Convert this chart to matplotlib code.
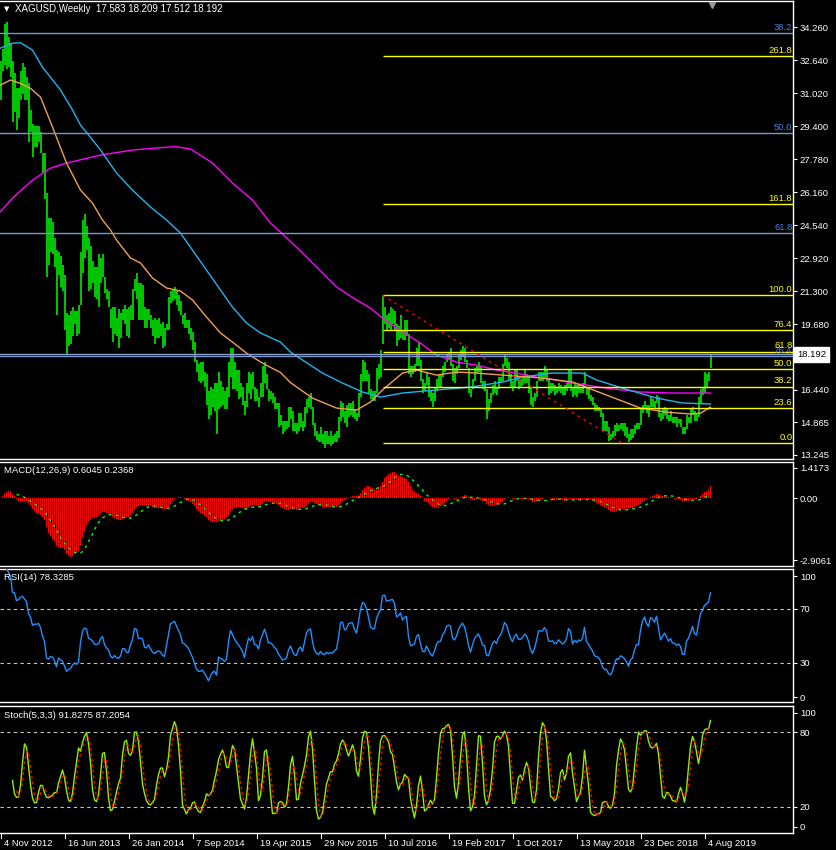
import matplotlib
matplotlib.use("Agg")
import matplotlib.pyplot as plt
import matplotlib.transforms as mtransforms
from matplotlib.lines import Line2D
import numpy as np
import pandas as pd

plt.rcParams["font.family"] = ["Liberation Sans", "DejaVu Sans"]

# weekly XAGUSD bars, first week 4 Nov 2012
START_DATE = "2012-11-04"
highs = [
    32.6, 33.2, 34.4, 34.5, 33.8, 33.5, 32.6, 32.0, 31.3, 31.3,
    32.1, 32.5, 32.3, 31.8, 31.5, 30.2, 29.5, 29.4, 29.4, 29.4,
    29.1, 28.1, 28.1, 26.1, 24.9, 24.9, 24.7, 23.9, 23.3, 23.2,
    23.0, 22.6, 22.1, 20.2, 20.1, 20.3, 20.5, 20.3, 20.3, 20.6,
    23.2, 24.8, 25.1, 24.5, 23.9, 23.5, 22.8, 22.5, 22.5, 23.1,
    22.9, 23.1, 22.0, 21.4, 21.3, 20.4, 20.5, 20.5, 20.0, 20.4,
    20.2, 20.4, 20.6, 20.4, 20.5, 20.6, 21.4, 21.9, 22.2, 21.7,
    21.7, 21.6, 20.5, 20.4, 20.4, 20.1, 19.9, 20.0, 19.9, 20.0,
    19.7, 19.8, 19.5, 19.7, 21.0, 21.3, 21.4, 21.5, 21.3, 21.1,
    20.8, 20.1, 20.2, 19.9, 19.9, 19.5, 19.3, 18.8, 17.9, 17.7,
    17.8, 17.8, 17.3, 17.2, 16.4, 16.6, 16.5, 16.8, 16.8, 17.3,
    16.9, 16.6, 16.4, 16.6, 17.8, 18.5, 18.5, 17.8, 17.4, 17.4,
    16.8, 16.6, 15.9, 16.8, 17.3, 17.2, 17.3, 16.6, 16.5, 16.1,
    16.8, 17.6, 17.8, 17.2, 16.5, 16.4, 16.3, 16.1, 15.8, 15.8,
    15.2, 14.9, 14.9, 14.9, 15.6, 15.6, 15.4, 14.8, 14.8, 15.3,
    15.3, 14.9, 15.6, 16.0, 16.1, 16.3, 15.6, 14.8, 14.4, 14.3,
    14.6, 14.3, 14.4, 14.4, 14.2, 14.4, 14.2, 14.3, 14.4, 15.1,
    15.9, 15.8, 15.4, 15.7, 15.8, 15.8, 15.9, 15.5, 15.3, 16.3,
    17.2, 17.9, 17.8, 17.4, 17.2, 16.5, 16.4, 16.4, 17.5, 17.7,
    18.4, 21.1, 20.5, 20.1, 20.2, 20.5, 20.4, 20.3, 19.7, 19.6,
    20.1, 19.4, 19.9, 19.9, 19.2, 17.6, 17.6, 17.7, 18.5, 18.8,
    17.9, 17.0, 16.8, 17.3, 17.1, 16.4, 16.3, 16.6, 17.0, 17.2,
    17.2, 17.6, 17.8, 18.2, 18.3, 18.5, 17.7, 17.5, 17.6, 18.2,
    18.4, 18.6, 18.5, 17.9, 17.5, 16.5, 17.0, 17.5, 17.6, 17.8,
    17.6, 16.9, 16.9, 16.5, 16.0, 16.3, 16.7, 16.9, 16.6, 17.1,
    17.1, 17.7, 18.2, 18.0, 17.8, 17.2, 16.9, 17.4, 17.4, 17.1,
    17.0, 17.1, 17.4, 17.2, 17.1, 16.6, 16.1, 16.3, 16.9, 17.3,
    17.3, 17.3, 17.6, 17.4, 17.0, 16.8, 16.8, 16.7, 16.6, 16.8,
    16.7, 16.6, 16.7, 16.8, 17.4, 17.4, 16.6, 16.8, 16.7, 16.7,
    16.6, 16.8, 17.3, 16.6, 16.5, 16.2, 16.1, 15.8, 15.7, 15.6,
    15.5, 15.3, 14.9, 14.9, 14.6, 14.3, 14.4, 14.7, 14.8, 14.7,
    14.8, 14.8, 14.8, 14.6, 14.3, 14.5, 14.5, 14.7, 14.8, 14.8,
    15.5, 15.7, 15.9, 15.7, 15.7, 16.1, 16.0, 15.9, 16.2, 16.1,
    15.3, 15.5, 15.6, 15.5, 15.2, 15.4, 15.1, 15.1, 15.1, 15.0,
    15.0, 14.6, 14.6, 15.2, 15.1, 15.5, 15.6, 15.4, 15.3, 16.1,
    16.5, 16.6, 17.3, 17.2, 17.3, 18.209,
]
lows = [
    30.7, 32.1, 32.4, 32.2, 32.3, 31.8, 29.6, 30.1, 29.2, 29.8,
    30.7, 31.0, 30.7, 30.7, 28.6, 29.1, 27.9, 28.4, 28.4, 28.6,
    28.1, 27.1, 25.8, 22.0, 22.6, 23.2, 23.1, 22.5, 20.1, 22.1,
    21.5, 21.3, 19.4, 18.2, 18.6, 18.7, 19.1, 19.7, 19.1, 19.2,
    20.6, 22.2, 22.9, 23.3, 21.3, 21.4, 21.7, 21.0, 20.9, 20.5,
    21.7, 22.0, 21.2, 20.9, 20.5, 19.5, 18.8, 19.2, 19.1, 18.5,
    19.0, 19.9, 19.7, 19.1, 19.0, 19.9, 19.9, 21.3, 20.9, 19.9,
    19.9, 19.9, 19.5, 19.5, 19.9, 19.5, 19.1, 18.7, 19.0, 19.0,
    19.1, 18.5, 18.6, 19.4, 19.4, 20.7, 20.8, 20.9, 20.6, 20.3,
    20.1, 19.7, 19.5, 19.5, 19.2, 18.9, 18.4, 17.8, 17.3, 16.9,
    16.8, 16.9, 16.6, 15.7, 15.0, 15.2, 15.6, 15.4, 14.3, 15.5,
    15.6, 15.7, 15.5, 15.5, 16.1, 17.1, 16.5, 16.5, 16.4, 16.0,
    16.1, 15.7, 15.2, 15.6, 16.3, 16.0, 16.5, 15.9, 15.9, 15.6,
    16.1, 16.1, 16.8, 16.5, 15.9, 16.0, 15.8, 15.5, 15.5, 14.6,
    14.7, 14.3, 14.4, 14.5, 14.6, 15.0, 14.4, 14.4, 14.3, 14.4,
    14.6, 14.4, 14.6, 15.3, 15.6, 15.5, 14.7, 14.2, 14.0, 13.9,
    13.9, 13.8, 13.6, 13.8, 13.8, 13.7, 13.8, 13.9, 13.9, 14.1,
    14.9, 15.1, 14.8, 14.6, 15.1, 15.2, 15.1, 15.0, 14.9, 15.1,
    16.1, 16.9, 16.9, 16.9, 16.3, 16.0, 15.9, 15.9, 16.3, 17.0,
    17.1, 18.7, 19.7, 19.4, 19.5, 19.4, 19.7, 19.4, 18.6, 18.9,
    19.0, 18.9, 18.9, 19.1, 17.2, 17.1, 17.2, 17.3, 17.6, 17.6,
    16.9, 16.3, 16.4, 16.7, 16.1, 15.9, 15.6, 15.9, 16.4, 16.6,
    16.6, 17.1, 17.3, 17.8, 17.9, 17.6, 16.9, 16.8, 17.2, 17.5,
    17.9, 18.1, 17.8, 17.5, 16.3, 16.1, 16.5, 16.9, 17.2, 17.3,
    16.8, 16.5, 16.4, 15.0, 15.4, 15.8, 16.2, 16.3, 16.2, 16.5,
    16.8, 16.9, 17.6, 17.5, 16.9, 16.6, 16.4, 16.6, 16.9, 16.5,
    16.6, 16.7, 16.8, 16.8, 16.3, 15.7, 15.6, 15.9, 16.1, 16.9,
    16.9, 16.9, 17.0, 16.9, 16.2, 16.3, 16.4, 16.2, 16.3, 16.4,
    16.3, 16.2, 16.2, 16.4, 16.6, 16.4, 16.1, 16.2, 16.1, 16.3,
    16.3, 16.3, 16.7, 16.2, 16.0, 15.9, 15.7, 15.4, 15.4, 15.4,
    15.1, 14.4, 14.4, 14.4, 13.95, 14.0, 14.1, 14.2, 14.4, 14.4,
    14.5, 14.4, 14.2, 14.1, 13.9, 14.0, 14.1, 14.3, 14.5, 14.5,
    14.7, 15.3, 15.5, 15.3, 15.1, 15.6, 15.6, 15.5, 15.8, 15.1,
    14.9, 15.0, 15.2, 15.0, 14.9, 14.9, 14.8, 14.8, 14.6, 14.8,
    14.6, 14.3, 14.3, 14.5, 14.8, 14.8, 15.2, 14.9, 14.9, 15.1,
    15.8, 16.2, 16.3, 16.6, 16.9, 17.512,
]
last_close = 18.192

# moving averages (week index, price)
ma200_weeks = [0, 6, 16, 25, 33, 50, 66, 83, 88, 95, 106, 116, 126, 135, 140,
               151, 168, 178, 185, 191, 201, 210, 218, 228, 238, 248, 258, 268,
               275, 286, 303, 320, 336, 355]
ma200 = [25.20, 25.87, 26.75, 27.34, 27.59, 27.98, 28.23, 28.37, 28.39, 28.28,
         27.59, 26.60, 25.77, 24.64, 24.20, 23.17, 21.50, 20.86, 20.46, 19.97,
         19.29, 18.74, 18.15, 17.81, 17.66, 17.42, 17.27, 17.07, 16.98, 16.78,
         16.53, 16.34, 16.29, 16.29]
ma100_weeks = [0, 6, 10, 16, 21, 30, 36, 40, 43, 50, 58, 66, 75, 83, 90, 96,
               103, 110, 116, 123, 130, 140, 145, 151, 161, 171, 181, 190, 201,
               218, 235, 251, 261, 275, 291, 298, 311, 328, 341, 355]
ma100 = [33.24, 33.48, 33.50, 33.14, 32.30, 31.18, 30.20, 29.45, 29.10, 28.23,
         27.10, 26.26, 25.43, 24.79, 24.15, 23.31, 22.33, 21.35, 20.51, 19.73,
         19.24, 18.79, 18.30, 17.91, 17.27, 16.78, 16.34, 16.09, 16.29, 16.44,
         16.58, 16.83, 17.07, 17.27, 17.27, 16.93, 16.53, 16.04, 15.80, 15.75]
ma50_weeks = [0, 5, 10, 15, 20, 26, 33, 40, 46, 51, 55, 58, 65, 70, 76, 83, 90,
              96, 103, 110, 116, 123, 131, 135, 140, 145, 156, 168, 178, 185,
              191, 201, 208, 218, 228, 238, 251, 265, 270, 286, 303, 320, 333,
              345, 350, 355]
ma50 = [31.42, 31.67, 31.50, 31.26, 30.83, 29.36, 27.59, 26.26, 25.62, 24.79,
        24.30, 23.81, 22.92, 22.68, 21.94, 21.45, 21.30, 20.86, 20.02, 19.24,
        18.79, 18.25, 17.76, 17.55, 17.30, 16.80, 16.04, 15.55, 15.45, 15.85,
        16.44, 17.27, 17.42, 17.17, 17.32, 17.27, 17.17, 17.07, 17.03, 16.83,
        16.19, 15.55, 15.35, 15.26, 15.30, 15.60]

# fibonacci objects
fib_levels = [0.0, 23.6, 38.2, 50.0, 61.8, 76.4, 100.0, 161.8, 261.8]
blue_fib_high, blue_fib_low = 49.82, 8.29
yellow_fib_low, yellow_fib_high = 13.82, 21.09
yellow_fib_start = 191
trend_weeks = [191, 311]
trend_prices = [21.09, 13.82]

price_ticks = [34.260, 32.640, 31.020, 29.400, 27.780, 26.160, 24.540,
               22.920, 21.300, 19.680, 16.440, 14.865, 13.245]
macd_ticks = [1.4173, 0.0, -2.9061]
rsi_ticks = [4.7, 30, 70, 94.3]
rsi_tick_labels = ["0", "30", "70", "100"]
stoch_ticks = [4.0, 20, 80, 95.2]
stoch_tick_labels = ["0", "20", "80", "100"]
label_every = 32

# indicators, from the bar midpoints (the last bar uses its real close)
high = np.array(highs)
low = np.array(lows)
weeks = np.arange(len(high))
mid = pd.Series((high + low) / 2)
mid.iloc[-1] = last_close
macd = mid.ewm(span=12, adjust=False).mean() - mid.ewm(span=26, adjust=False).mean()
signal = macd.rolling(9).mean()
delta = mid.diff()
gain = delta.clip(lower=0).ewm(alpha=1 / 14, adjust=False).mean()
loss = (-delta.clip(upper=0)).ewm(alpha=1 / 14, adjust=False).mean()
rsi = 100 - 100 / (1 + gain / loss)
rsi.iloc[:3] = np.nan  # too little history for the first weeks
ll = pd.Series(low).rolling(5).min()
hh = pd.Series(high).rolling(5).max()
stoch_k = 100 * (mid - ll).rolling(3).sum() / (hh - ll).rolling(3).sum()
stoch_d = stoch_k.rolling(3).mean()

W, H = 836, 850
PLOT_W = 793
FS = 6.8

fig = plt.figure(figsize=(W / 100, H / 100), dpi=100, facecolor="black")


def panel(top, bottom, ylim):
    ax = fig.add_axes([0, 1 - bottom / H, PLOT_W / W, (bottom - top) / H])
    ax.set_facecolor("black")
    # two pixels per week, each week centred on a pixel column
    ax.set_xlim(-0.25, (PLOT_W - 0.5) / 2)
    ax.set_ylim(*ylim)
    ax.set_xticks([])
    ax.yaxis.tick_right()
    ax.tick_params(axis="y", colors="white", labelsize=FS, length=3,
                   width=0.8, pad=2, direction="out")
    for side in ("top", "bottom", "right"):
        ax.spines[side].set_color("white")
        ax.spines[side].set_linewidth(1)
    ax.spines["left"].set_visible(False)
    return ax


def fig_text(x, y, s, **kw):
    kw.setdefault("color", "white")
    kw.setdefault("fontsize", FS)
    kw.setdefault("va", "center")
    fig.text(x / W, 1 - y / H, s, **kw)


ax = panel(1, 459, (13.048, 35.552))
ax_macd = panel(462, 566, (-3.188, 1.699))
ax_rsi = panel(569, 702, (1.05, 99.5))
ax_sto = panel(706, 833, (-0.8, 100.8))

# main chart
ax.vlines(weeks, low, high, colors="#00ff00", lw=1.1, zorder=2)
ax.plot(ma200_weeks, ma200, color="#ff00ff", lw=1, zorder=3)
ax.plot(ma100_weeks, ma100, color="#1eb4f0", lw=1, zorder=3)
ax.plot(ma50_weeks, ma50, color="#f0a050", lw=1, zorder=3)

ymin, ymax = ax.get_ylim()
xr = ax.get_xlim()[1] - 0.3
for lvl in fib_levels:
    p = blue_fib_high - lvl / 100 * (blue_fib_high - blue_fib_low)
    if ymin < p < ymax:
        ax.axhline(p, color="#7896d2", lw=1, zorder=4)
        ax.annotate(f"{lvl:.1f}", (xr, p), xytext=(0, 1), textcoords="offset points",
                    ha="right", va="bottom", color="#4f80e0", fontsize=FS, zorder=5)
ax.axhline(last_close, color="#8c9fc6", lw=1, zorder=4)
for lvl in fib_levels:
    p = yellow_fib_low + lvl / 100 * (yellow_fib_high - yellow_fib_low)
    ax.hlines(p, yellow_fib_start, ax.get_xlim()[1], color="#ffff00", lw=1, zorder=4)
    ax.annotate(f"{lvl:.1f}", (xr, p), xytext=(0, 1), textcoords="offset points",
                ha="right", va="bottom", color="#ffff00", fontsize=FS, zorder=6)
ax.plot(trend_weeks, trend_prices, color="#ff0000", lw=1, ls=(0, (2, 3)), zorder=4)

ax.set_yticks(price_ticks)
ax.set_yticklabels([f"{t:.3f}" for t in price_ticks])
blend = mtransforms.blended_transform_factory(ax.transAxes, ax.transData)
ax.text(1 + 4 / PLOT_W, last_close, f"{last_close:.3f}", transform=blend,
        ha="left", va="center", fontsize=FS, color="black", clip_on=False,
        bbox=dict(boxstyle="square,pad=0.3", fc="white", ec="white"))
top_blend = mtransforms.blended_transform_factory(ax.transData, ax.transAxes)
ax.plot([weeks[-1] + 0.5], [0.992], marker="v", color="#9a9a9a", ms=5,
        transform=top_blend, clip_on=False, zorder=7)

fig_text(4, 9, "\u25bc", family=["DejaVu Sans"], fontsize=5)
fig_text(15, 9, "XAGUSD,Weekly  17.583 18.209 17.512 18.192", fontsize=7)

# MACD
ax_macd.bar(weeks, macd, width=0.5, color="#ff0000", zorder=2)
ax_macd.plot(weeks, signal, color="#00ff00", lw=1, ls=(0, (2, 3)), zorder=3)
ax_macd.set_yticks(macd_ticks)
ax_macd.set_yticklabels(["1.4173", "0.00", "-2.9061"])
fig_text(4, 471, "MACD(12,26,9) 0.6045 0.2368")

# RSI
for lvl in (30, 70):
    ax_rsi.axhline(lvl, color="#c8c8c8", lw=0.8, ls=(0, (3, 3)), zorder=1)
ax_rsi.plot(weeks, rsi, color="#1e90ff", lw=1, zorder=3)
ax_rsi.set_yticks(rsi_ticks)
ax_rsi.set_yticklabels(rsi_tick_labels)
fig_text(4, 578, "RSI(14) 78.3285")

# Stochastic
fig_text(4, 715, "Stoch(5,3,3) 91.8275 87.2054", zorder=1)
for lvl in (20, 80):
    ax_sto.axhline(lvl, color="#c8c8c8", lw=0.8, ls=(0, (3, 3)), zorder=1)
ax_sto.plot(weeks, stoch_k, color="#8cf000", lw=1, zorder=3)
ax_sto.plot(weeks, stoch_d, color="#ff0000", lw=1, ls=(0, (2, 2)), zorder=4)
ax_sto.set_yticks(stoch_ticks)
ax_sto.set_yticklabels(stoch_tick_labels)

# date axis
dates = pd.date_range(START_DATE, periods=len(weeks), freq="7D")
for i in range(0, len(weeks), label_every):
    xpx = 2 * i + 0.5
    fig.add_artist(Line2D([xpx / W, xpx / W], [1 - 833 / H, 1 - 838 / H],
                          color="white", lw=0.8))
    d = dates[i]
    fig_text(xpx + 3, 843, f"{d.day} {d.strftime('%b %Y')}")

fig.savefig("out.png", dpi=100, facecolor="black")
